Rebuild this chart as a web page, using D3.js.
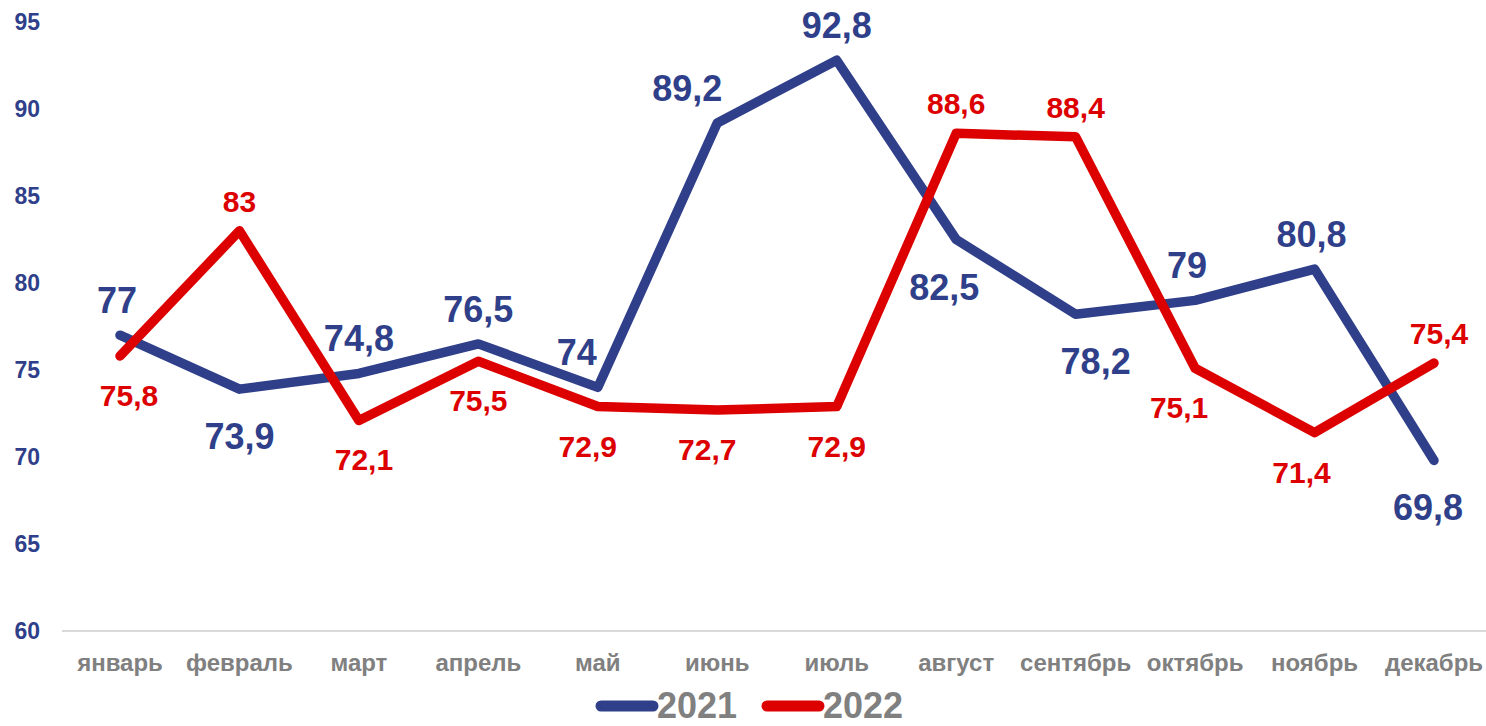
<!DOCTYPE html>
<html>
<head>
<meta charset="utf-8">
<style>
  body { margin: 0; background: #fff; }
  svg { display: block; font-family: "Liberation Sans", Arial, sans-serif; font-weight: bold; }
  .ytick text { fill: #2f3f8a; font-size: 23px; }
  .xtick text { fill: #808080; font-size: 24px; }
  .line { fill: none; stroke-width: 9.5px; stroke-linejoin: round; stroke-linecap: round; }
</style>
</head>
<body>
<svg width="1486" height="726"></svg>
<script src="https://d3js.org/d3.v7.min.js"></script>
<script>
var months = ["январь", "февраль", "март", "апрель", "май", "июнь", "июль", "август", "сентябрь", "октябрь", "ноябрь", "декабрь"];
var values2021 = [77, 73.9, 74.8, 76.5, 74, 89.2, 92.8, 82.5, 78.2, 79, 80.8, 69.8];
var values2022 = [75.8, 83, 72.1, 75.5, 72.9, 72.7, 72.9, 88.6, 88.4, 75.1, 71.4, 75.4];
var yTicks = [60, 65, 70, 75, 80, 85, 90, 95];
var seriesNames = ["2021", "2022"];

// label side for each point: "a" above, "b" below
var place2021 = ["a", "b", "a", "a", "a", "a", "a", "b", "b", "a", "a", "b"];
var place2022 = ["b", "a", "b", "b", "b", "b", "b", "a", "a", "b", "b", "a"];
// small horizontal nudges of labels
var nudge2021 = [-3, 0, 0, 0, -21, -30, 0, -12, 20, -8, -3, -6];
var nudge2022 = [9, 0, 5, 0, -10, -10, 0, 0, 0, -16, -13, 5];

var colors = { "2021": "#2f3f8a", "2022": "#dc0000" };

var svg = d3.select("svg");

var x = d3.scalePoint().domain(months).range([120, 1434]);
var y = d3.scaleLinear().domain([60, 95]).range([631, 22]);

// baseline line
svg.append("line")
  .attr("x1", 62).attr("x2", 1486)
  .attr("y1", y(60)).attr("y2", y(60))
  .attr("stroke", "#d9d9d9").attr("stroke-width", 2);

// y labels
svg.append("g").attr("class", "ytick")
  .selectAll("text")
  .data(yTicks)
  .enter().append("text")
    .attr("x", 40)
    .attr("y", function(d) { return y(d); })
    .attr("dy", "0.35em")
    .attr("text-anchor", "end")
    .text(function(d) { return d; });

// x labels
svg.append("g").attr("class", "xtick")
  .selectAll("text")
  .data(months)
  .enter().append("text")
    .attr("x", function(d) { return x(d); })
    .attr("y", 671)
    .attr("text-anchor", "middle")
    .text(function(d) { return d; });

var line = d3.line()
  .x(function(d, i) { return x(months[i]); })
  .y(function(d) { return y(d); });

var series = [
  { name: "2021", values: values2021, place: place2021, nudge: nudge2021, size: 36, up: 22, down: 60 },
  { name: "2022", values: values2022, place: place2022, nudge: nudge2022, size: 30, up: 19, down: 50 }
];

series.forEach(function(s) {
  svg.append("path")
    .datum(s.values)
    .attr("class", "line")
    .attr("stroke", colors[s.name])
    .attr("d", line);
});

series.forEach(function(s) {
  svg.append("g")
    .selectAll("text")
    .data(s.values)
    .enter().append("text")
      .attr("x", function(d, i) { return x(months[i]) + s.nudge[i]; })
      .attr("y", function(d, i) { return s.place[i] === "a" ? y(d) - s.up : y(d) + s.down; })
      .attr("text-anchor", "middle")
      .attr("font-size", s.size)
      .attr("fill", colors[s.name])
      .text(function(d) { return String(d).replace(".", ","); });
});

// legend
var legend = svg.append("g")
  .selectAll("g")
  .data(seriesNames)
  .enter().append("g")
    .attr("transform", function(d, i) { return "translate(" + (601 + i * 166) + ",706)"; });

legend.append("line")
  .attr("x1", 0).attr("x2", 52)
  .attr("stroke", function(d) { return colors[d]; })
  .attr("stroke-width", 11)
  .attr("stroke-linecap", "round");

legend.append("text")
  .attr("x", 56)
  .attr("y", 12)
  .attr("font-size", 36)
  .attr("fill", "#808080")
  .text(function(d) { return d; });
</script>
</body>
</html>
